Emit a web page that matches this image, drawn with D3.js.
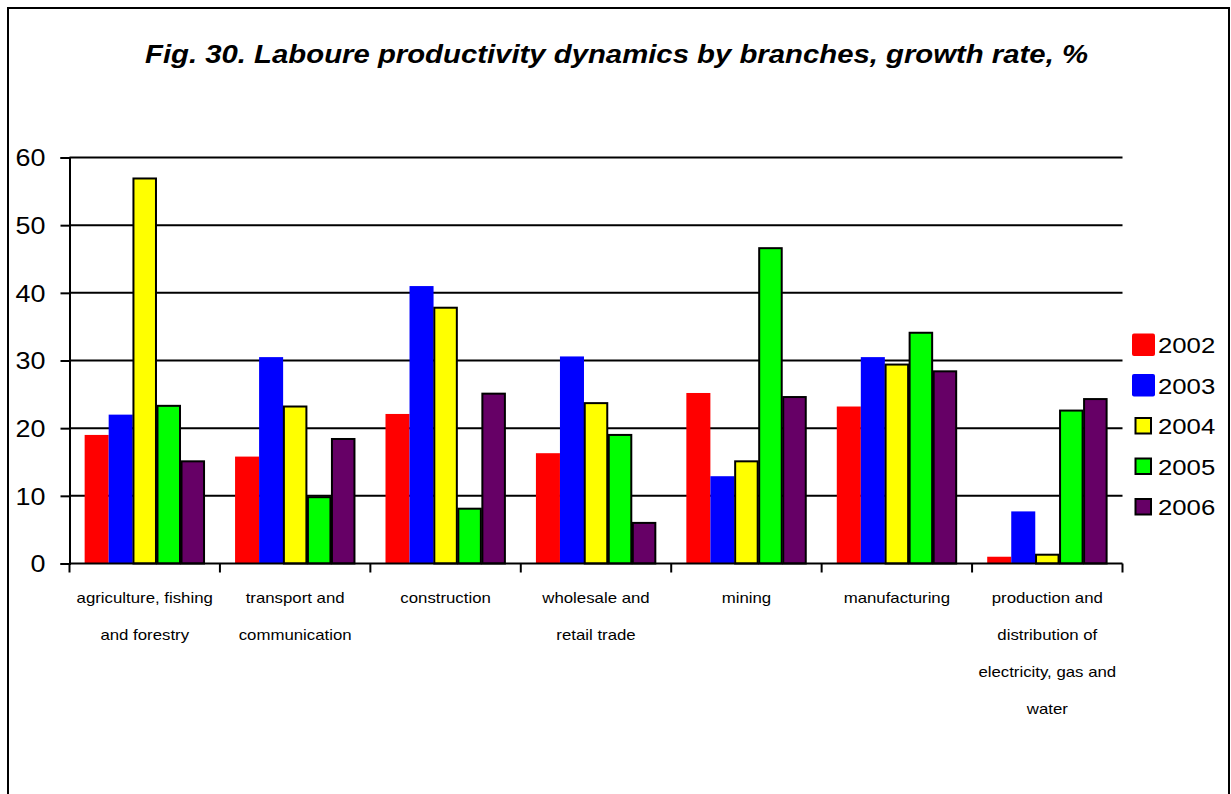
<!DOCTYPE html>
<html><head><meta charset="utf-8">
<script src="https://cdn.jsdelivr.net/npm/d3@7/dist/d3.min.js"></script>
<style>body{margin:0;background:#fff}svg{display:block;font-family:Arial,"Liberation Sans",sans-serif}</style>
</head><body><svg id="c" width="1231" height="794"></svg>
<script>
const categories = [
  ["agriculture, fishing","and forestry"],
  ["transport and","communication"],
  ["construction"],
  ["wholesale and","retail trade"],
  ["mining"],
  ["manufacturing"],
  ["production and","distribution of","electricity, gas and","water"]
];
const years = ["2002","2003","2004","2005","2006"];
const v2002 = [19.0, 15.8, 22.1, 16.3, 25.2, 23.2, 1.0];
const v2003 = [22.0, 30.5, 41.0, 30.6, 12.9, 30.5, 7.7];
const v2004 = [56.9, 23.2, 37.8, 23.7, 15.1, 29.4, 1.3];
const v2005 = [23.3, 9.8, 8.1, 19.0, 46.6, 34.1, 22.6];
const v2006 = [15.1, 18.4, 25.1, 6.0, 24.6, 28.4, 24.3];
const yTicks = [0,10,20,30,40,50,60];
const colors = ["#ff0000","#0000ff","#ffff00","#00ff00","#660066"];
const stroked = [false,false,true,true,true];
const series = [v2002,v2003,v2004,v2005,v2006];
const SX = 1.17; // horizontal text stretch seen in the reference

const svg = d3.select("#c");
svg.append("rect").attr("x",8).attr("y",8).attr("width",1221).attr("height",800)
  .attr("fill","none").attr("stroke","#000").attr("stroke-width",2);

svg.append("text").attr("x",616.5).attr("y",63).attr("text-anchor","middle")
  .attr("font-size",26).attr("font-weight","bold").attr("font-style","italic")
  .attr("textLength",943).attr("lengthAdjust","spacingAndGlyphs")
  .text("Fig. 30. Laboure productivity dynamics by branches, growth rate, %");

const x0 = d3.scaleBand().domain(d3.range(categories.length)).range([69.5,1122.5]).paddingInner(0).paddingOuter(0);
const x1 = d3.scaleBand().domain(d3.range(years.length)).range([0,x0.bandwidth()]).paddingOuter(0.63).paddingInner(0);
const y = d3.scaleLinear().domain([0,60]).range([563.5,157.5]);

// gridlines
svg.append("g").selectAll("line").data(yTicks.filter(d=>d>0)).join("line")
  .attr("x1",69.5).attr("x2",1122.5).attr("y1",d=>y(d)).attr("y2",d=>y(d))
  .attr("stroke","#000").attr("stroke-width",2);

// bars
series.forEach((vals,si)=>{
  svg.append("g").selectAll("rect").data(vals).join("rect")
    .attr("x",(d,i)=>x0(i)+x1(si)+(stroked[si]?0.75:0))
    .attr("width",x1.bandwidth()-(stroked[si]?1.5:0))
    .attr("y",d=>y(d))
    .attr("height",d=>y(0)-y(d))
    .attr("fill",colors[si])
    .attr("stroke",stroked[si]?"#000":"none")
    .attr("stroke-width",stroked[si]?2:0);
});

// y axis
const ya = svg.append("g").attr("transform","translate(69.5,0)")
  .call(d3.axisLeft(y).tickValues(yTicks).tickSize(9).tickPadding(14));
ya.select(".domain").attr("stroke","#000").attr("stroke-width",2);
ya.selectAll(".tick line").attr("stroke","#000").attr("stroke-width",2);
ya.selectAll(".tick text").attr("font-size",23).attr("fill","#000")
  .attr("font-family","Arial, 'Liberation Sans', sans-serif")
  .attr("x",0).attr("dy",null).attr("dominant-baseline","central")
  .attr("transform",`translate(-24,0) scale(${SX},1)`);

// x axis
const xa = svg.append("g").attr("transform","translate(0,563.5)")
  .call(d3.axisBottom(x0).tickValues([]).tickSize(0));
xa.select(".domain").attr("stroke","#000").attr("stroke-width",2).attr("d","M69.5,0H1122.5");
const edges = d3.range(categories.length+1).map(i=> i<categories.length ? x0(i) : x0(i-1)+x0.bandwidth());
xa.selectAll("line.tk").data(edges).join("line").attr("class","tk")
  .attr("x1",d=>d).attr("x2",d=>d).attr("y1",0).attr("y2",9).attr("stroke","#000").attr("stroke-width",2);

const lab = svg.append("g");
categories.forEach((lines,i)=>{
  const t = lab.append("text").attr("text-anchor","middle").attr("font-size",14).attr("fill","#000")
    .attr("transform",`translate(${x0(i)+x0.bandwidth()/2},603) scale(1.2,1)`);
  lines.forEach((ln,j)=>{
    t.append("tspan").attr("x",0).attr("y",j*37).text(ln);
  });
});

// legend
const lg = svg.append("g");
years.forEach((yr,i)=>{
  const cy = 345 + i*40.5;
  if(stroked[i]){
    lg.append("rect").attr("x",1135.5).attr("y",cy-8).attr("width",15.5).attr("height",15.5)
      .attr("fill",colors[i]).attr("stroke","#000").attr("stroke-width",2);
  } else {
    lg.append("rect").attr("x",1132).attr("y",cy-11.5).attr("width",23).attr("height",22.5)
      .attr("rx",2).attr("fill",colors[i]);
  }
  lg.append("text").attr("font-size",22).attr("fill","#000")
    .attr("transform",`translate(1158,${cy+8}) scale(${SX},1)`).text(yr);
});
</script></body></html>
